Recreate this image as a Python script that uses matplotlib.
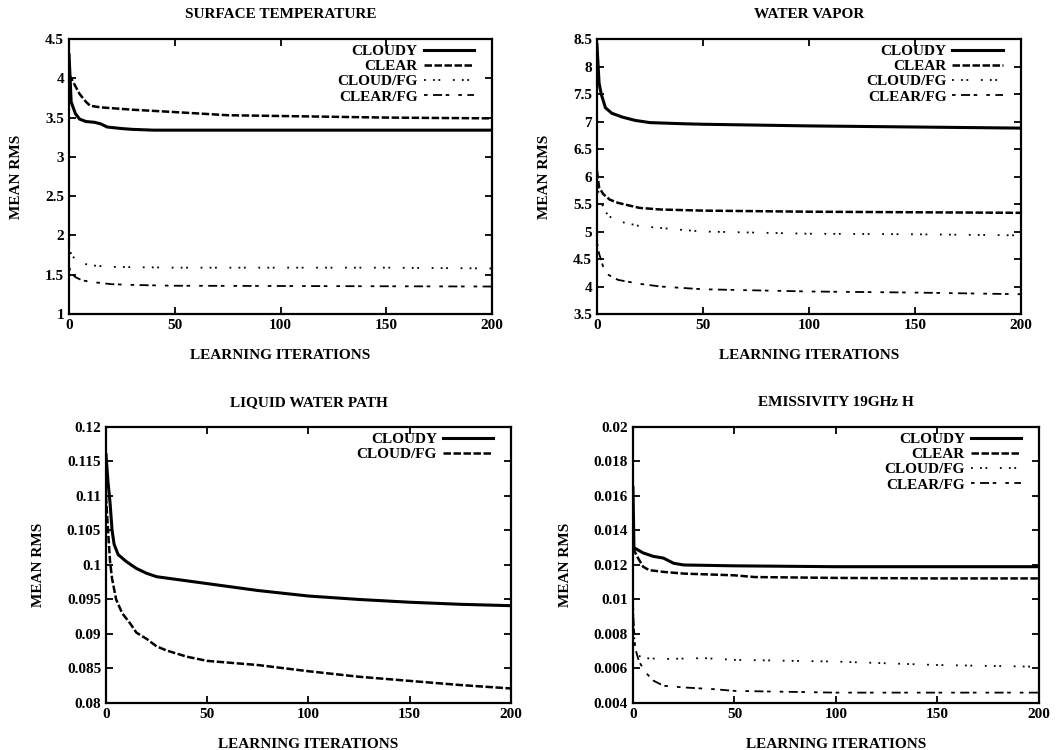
import matplotlib
matplotlib.use("Agg")
import matplotlib.pyplot as plt

plt.rcParams['font.family'] = ['Liberation Serif', 'DejaVu Serif']
plt.rcParams['font.weight'] = 'bold'
plt.rcParams['axes.titleweight'] = 'bold'
plt.rcParams['axes.labelweight'] = 'bold'
plt.rcParams['font.size'] = 11

# ---- data (iteration, mean rms) ----
# surface temperature
st_x_cloudy = [0, 1, 3, 5, 8, 12, 15, 18, 25, 30, 40, 200]
st_cloudy = [4.3, 3.7, 3.55, 3.48, 3.45, 3.44, 3.42, 3.38, 3.36, 3.35, 3.34, 3.34]
st_x_clear = [0, 2, 5, 8, 10, 15, 30, 50, 75, 100, 125, 150, 200]
st_clear = [4.05, 3.95, 3.8, 3.7, 3.65, 3.63, 3.6, 3.57, 3.53, 3.52, 3.51, 3.5, 3.49]
st_x_cloudfg = [0, 1, 3, 6, 10, 20, 50, 100, 150, 200]
st_cloudfg = [1.9, 1.75, 1.7, 1.65, 1.62, 1.6, 1.59, 1.59, 1.59, 1.58]
st_x_clearfg = [0, 1, 3, 6, 10, 20, 30, 50, 200]
st_clearfg = [1.6, 1.52, 1.47, 1.43, 1.41, 1.38, 1.37, 1.36, 1.35]

# water vapor
wv_x_cloudy = [0, 1, 2, 4, 7, 12, 18, 25, 40, 50, 100, 150, 200]
wv_cloudy = [8.4, 7.7, 7.5, 7.25, 7.15, 7.08, 7.02, 6.98, 6.96, 6.95, 6.92, 6.9, 6.88]
wv_x_clear = [0, 1, 3, 6, 10, 20, 30, 50, 100, 200]
wv_clear = [6.1, 5.8, 5.68, 5.58, 5.52, 5.43, 5.4, 5.38, 5.36, 5.34]
wv_x_cloudfg = [0, 1, 3, 5, 8, 12, 20, 40, 50, 100, 150, 200]
wv_cloudfg = [6.0, 5.6, 5.45, 5.3, 5.22, 5.17, 5.1, 5.03, 5.0, 4.96, 4.95, 4.93]
wv_x_clearfg = [0, 1, 3, 5, 10, 20, 30, 50, 100, 150, 200]
wv_clearfg = [4.8, 4.6, 4.35, 4.22, 4.12, 4.05, 4.0, 3.95, 3.91, 3.89, 3.86]

# liquid water path
lw_x_cloudy = [0, 1, 2, 3, 4, 6, 10, 15, 20, 25, 40, 50, 75, 100, 125, 150, 175, 200]
lw_cloudy = [0.116, 0.112, 0.109, 0.105, 0.103, 0.1015, 0.1005, 0.0995, 0.0988, 0.0983,
             0.0977, 0.0973, 0.0963, 0.0955, 0.0950, 0.0946, 0.0943, 0.0941]
lw_x_cloudfg = [0, 1, 2, 3, 5, 8, 12, 15, 20, 25, 30, 40, 50, 75, 100, 125, 150, 175, 200]
lw_cloudfg = [0.11, 0.105, 0.1005, 0.098, 0.095, 0.093, 0.0915, 0.0902, 0.0893, 0.0882,
              0.0876, 0.0867, 0.0861, 0.0855, 0.0846, 0.0838, 0.0832, 0.0826, 0.0821]

# emissivity 19GHz H
em_x_cloudy = [0, 0.5, 2, 5, 10, 15, 20, 25, 50, 100, 200]
em_cloudy = [0.0165, 0.013, 0.0129, 0.0127, 0.0125, 0.0124, 0.0121, 0.012, 0.01195, 0.0119, 0.0119]
em_x_clear = [0, 2, 5, 8, 15, 25, 50, 60, 100, 150, 200]
em_clear = [0.013, 0.0125, 0.0119, 0.0117, 0.0116, 0.0115, 0.0114, 0.0113, 0.01125, 0.01122, 0.01122]
em_x_cloudfg = [0, 0.5, 1, 2, 5, 15, 35, 50, 100, 150, 200]
em_cloudfg = [0.01, 0.008, 0.0072, 0.0068, 0.0066, 0.00655, 0.0066, 0.0065, 0.0064, 0.0062, 0.0061]
em_x_clearfg = [0, 1, 3, 6, 10, 15, 25, 40, 50, 75, 100, 200]
em_clearfg = [0.0095, 0.0072, 0.0064, 0.0058, 0.0053, 0.005, 0.0049, 0.0048, 0.0047, 0.00465, 0.0046, 0.0046]

# line styles (gnuplot-ish)
SOLID = dict(color='black', lw=2.2, ls='-')
CLEAR = dict(color='black', lw=1.8, ls=(0, (3, 1)))
CLOUDFG = dict(color='black', lw=1.3, ls=(0, (1, 4, 1, 2, 1, 7)))
CLEARFG = dict(color='black', lw=1.3, ls=(0, (2, 3, 5, 2, 2, 5)))


def style_axes(ax, title, ylim, yticks, ylabels):
    ax.set_xlim(0, 200)
    ax.set_ylim(*ylim)
    ax.set_xticks([0, 50, 100, 150, 200])
    ax.set_yticks(yticks)
    ax.set_yticklabels(ylabels)
    ax.set_title(title, fontsize=11, pad=15)
    ax.set_xlabel("LEARNING ITERATIONS", labelpad=12)
    ax.set_ylabel("MEAN RMS", labelpad=16)
    ax.tick_params(direction='in', top=True, right=True, length=5, width=1.3)
    for s in ax.spines.values():
        s.set_linewidth(1.6)
    leg = ax.legend(loc='upper right', frameon=False, markerfirst=False,
                    handlelength=3.3, handletextpad=0.4, labelspacing=0.1,
                    borderaxespad=0.15, borderpad=0.2, fontsize=11,
                    bbox_to_anchor=(0.97, 1.0))
    return leg


fig = plt.figure(figsize=(10.59, 7.5), dpi=100)

# Surface temperature
ax1 = fig.add_axes([0.0652, 0.5813, 0.3994, 0.3667])
ax1.plot(st_x_cloudy, st_cloudy, label='CLOUDY', **SOLID)
ax1.plot(st_x_clear, st_clear, label='CLEAR', **CLEAR)
ax1.plot(st_x_cloudfg, st_cloudfg, label='CLOUD/FG', **CLOUDFG)
ax1.plot(st_x_clearfg, st_clearfg, label='CLEAR/FG', **CLEARFG)
style_axes(ax1, "SURFACE TEMPERATURE", (1, 4.5),
           [1, 1.5, 2, 2.5, 3, 3.5, 4, 4.5],
           ['1', '1.5', '2', '2.5', '3', '3.5', '4', '4.5'])

# Water vapor
ax2 = fig.add_axes([0.5637, 0.5813, 0.4004, 0.3667])
ax2.plot(wv_x_cloudy, wv_cloudy, label='CLOUDY', **SOLID)
ax2.plot(wv_x_clear, wv_clear, label='CLEAR', **CLEAR)
ax2.plot(wv_x_cloudfg, wv_cloudfg, label='CLOUD/FG', **CLOUDFG)
ax2.plot(wv_x_clearfg, wv_clearfg, label='CLEAR/FG', **CLEARFG)
style_axes(ax2, "WATER VAPOR", (3.5, 8.5),
           [3.5, 4, 4.5, 5, 5.5, 6, 6.5, 7, 7.5, 8, 8.5],
           ['3.5', '4', '4.5', '5', '5.5', '6', '6.5', '7', '7.5', '8', '8.5'])

# Liquid water path
ax3 = fig.add_axes([0.1001, 0.0627, 0.3824, 0.368])
ax3.plot(lw_x_cloudy, lw_cloudy, label='CLOUDY', **SOLID)
ax3.plot(lw_x_cloudfg, lw_cloudfg, label='CLOUD/FG', **CLEAR)
style_axes(ax3, "LIQUID WATER PATH", (0.08, 0.12),
           [0.08, 0.085, 0.09, 0.095, 0.1, 0.105, 0.11, 0.115, 0.12],
           ['0.08', '0.085', '0.09', '0.095', '0.1', '0.105', '0.11', '0.115', '0.12'])

# Emissivity
ax4 = fig.add_axes([0.5977, 0.0627, 0.3834, 0.368])
ax4.plot(em_x_cloudy, em_cloudy, label='CLOUDY', **SOLID)
ax4.plot(em_x_clear, em_clear, label='CLEAR', **CLEAR)
ax4.plot(em_x_cloudfg, em_cloudfg, label='CLOUD/FG', **CLOUDFG)
ax4.plot(em_x_clearfg, em_clearfg, label='CLEAR/FG', **CLEARFG)
style_axes(ax4, "EMISSIVITY 19GHz H", (0.004, 0.02),
           [0.004, 0.006, 0.008, 0.01, 0.012, 0.014, 0.016, 0.018, 0.02],
           ['0.004', '0.006', '0.008', '0.01', '0.012', '0.014', '0.016', '0.018', '0.02'])

plt.savefig("out.png", dpi=100)
